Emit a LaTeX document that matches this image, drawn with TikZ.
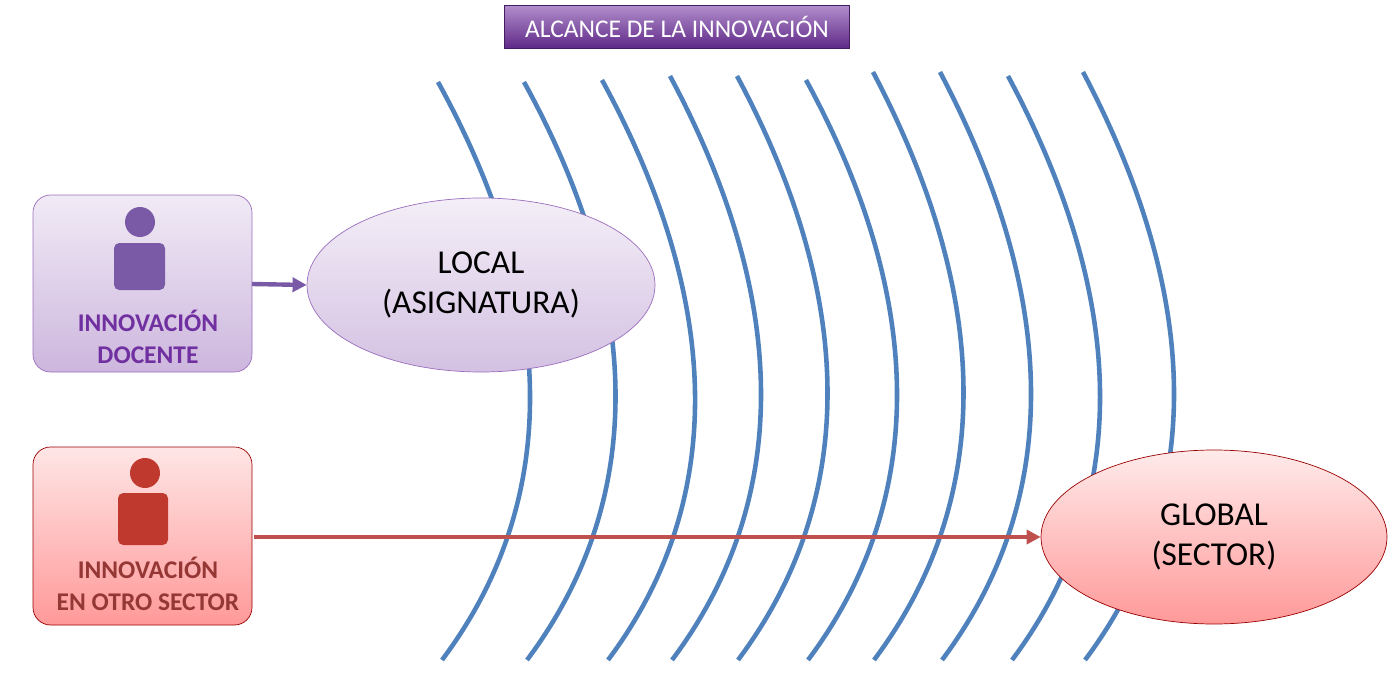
\documentclass[tikz,border=0pt]{standalone}
\usepackage{fontspec}
\setmainfont{Carlito}
\usetikzlibrary{arrows.meta,shapes.geometric}
\definecolor{arcblue}{HTML}{4F81BD}
\definecolor{purp}{HTML}{7030A0}
\definecolor{dred}{HTML}{953735}
\definecolor{iconp}{HTML}{7A5AA6}
\definecolor{iconr}{HTML}{C0392F}
\definecolor{arrr}{HTML}{C0504D}
\tikzset{
 arc/.style={draw=arcblue,line width=2.6pt},
 lbl/.style={font=\fontsize{19}{23}\selectfont,align=center},
 boxlbl/.style={font=\bfseries\fontsize{14.5}{18}\selectfont,align=center}
}
\begin{document}
\begin{tikzpicture}[x=0.02cm,y=-0.02cm]
\useasboundingbox (0,0) rectangle (1396,696);
\node[minimum width=345*0.02cm,minimum height=43*0.02cm,top color=purp!55,bottom color=purp!85!black,draw=purp!60!black,text=white,font=\fontsize{14.5}{16}\selectfont] (title) at (677,27) {ALCANCE DE LA INNOVACIÓN};
\foreach \x/\t/\b in {438/82/442,524/82/527,602/80/608,670/76/672,737/76/738,806/80/808,873/72/874,940/72/942,1008/76/1012,1083/72/1085}
  \draw[arc] (\x,\t) .. controls (\x+120,300) and (\b+120,500) .. (\b,660);
% purple box
\path[rounded corners=10pt,draw=purp!70,top color=purp!10,bottom color=purp!35] (33,195) rectangle (252,372);
\node[circle,fill=iconp,minimum size=30*0.02cm,inner sep=0pt] (h1) at (140,222) {};
\path[rounded corners=3pt,fill=iconp] (114,243) rectangle (165,290);
\node[boxlbl,text=purp] (t1) at (148,337) {INNOVACIÓN\\DOCENTE};
% red box
\path[rounded corners=10pt,draw=red!60!black,top color=red!10,bottom color=red!40] (33,447) rectangle (252,625);
\node[circle,fill=iconr,minimum size=30*0.02cm,inner sep=0pt] (h2) at (145,473) {};
\path[rounded corners=3pt,fill=iconr] (118,493) rectangle (168,545);
\node[boxlbl,text=dred] (t2) at (148,584) {INNOVACIÓN\\EN OTRO SECTOR};
\coordinate (p1) at (252,284);
\coordinate (r1) at (254,537);
% ellipses
\node[ellipse,draw=purp!70,top color=purp!8,bottom color=purp!30,minimum width=348*0.02cm,minimum height=174*0.02cm,lbl] (local) at (481,285) {LOCAL\\(ASIGNATURA)};
\node[ellipse,draw=red!60!black,top color=red!8,bottom color=red!40,minimum width=346*0.02cm,minimum height=174*0.02cm,lbl] (global) at (1214,537) {GLOBAL\\(SECTOR)};
\draw[iconp,line width=2.5pt,-{Triangle[length=8pt,width=8pt]}] (p1) -- (local.west);
\draw[arrr,line width=2.5pt,-{Triangle[length=8pt,width=8pt]}] (r1) -- (global.west);
\end{tikzpicture}
\end{document}
